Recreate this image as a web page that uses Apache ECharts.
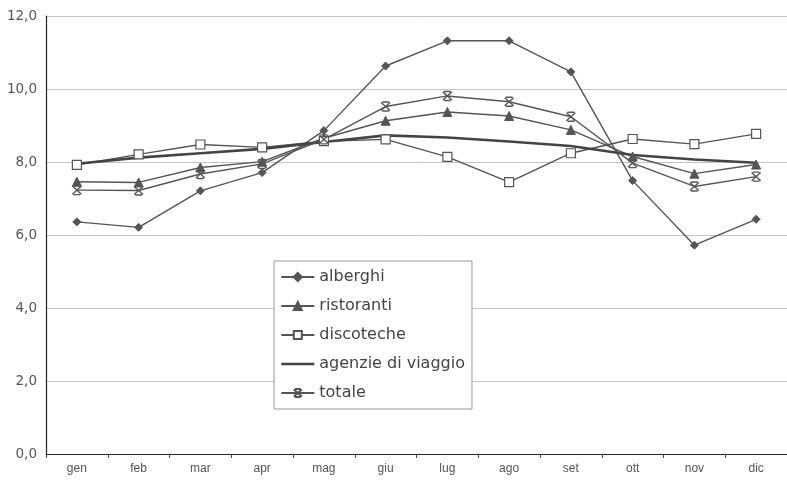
<!DOCTYPE html>
<html>
<head>
<meta charset="utf-8">
<script src="https://cdn.jsdelivr.net/npm/echarts@6/dist/echarts.min.js"></script>
<style>
  html, body { margin: 0; padding: 0; background: #fff; }
  #chart { width: 787px; height: 481px; }
</style>
</head>
<body>
<div id="chart"></div>
<script>
// Monthly index by sector
const months = ['gen', 'feb', 'mar', 'apr', 'mag', 'giu', 'lug', 'ago', 'set', 'ott', 'nov', 'dic'];
const yTicks = [0, 2, 4, 6, 8, 10, 12];

const alberghi   = [6.36, 6.21, 7.21, 7.71, 8.86, 10.63, 11.32, 11.32, 10.47, 7.49, 5.72, 6.43];
const ristoranti = [7.46, 7.44, 7.85, 8.01, 8.65, 9.13, 9.37, 9.26, 8.88, 8.15, 7.68, 7.93];
const discoteche = [7.92, 8.21, 8.48, 8.40, 8.57, 8.62, 8.14, 7.45, 8.24, 8.63, 8.49, 8.77];
const agenzie    = [7.95, 8.12, 8.24, 8.36, 8.55, 8.73, 8.67, 8.56, 8.44, 8.19, 8.07, 7.98];
const totale     = [7.23, 7.22, 7.67, 7.95, 8.62, 9.52, 9.81, 9.65, 9.24, 7.97, 7.33, 7.60];

const ink = '#555';
const labelFont = 'Liberation Sans, Arial, sans-serif';
const wideFont = 'DejaVu Sans, Verdana, sans-serif';
// X with short horizontal caps above and below
const starPath = 'path://M2,0 L8,0 M2,10 L8,10 M1,0.5 L9,9.5 M9,0.5 L1,9.5';

function lineSeries(name, data, extra) {
  return Object.assign({
    name: name,
    type: 'line',
    data: data,
    symbolSize: 8,
    lineStyle: { color: ink, width: 1.4 },
    itemStyle: { color: ink, borderColor: ink, borderWidth: 1 },
    emphasis: { disabled: true },
    animation: false,
    z: 3
  }, extra);
}

const chart = echarts.init(document.getElementById('chart'), null, { renderer: 'canvas' });
chart.setOption({
  backgroundColor: '#fff',
  animation: false,
  grid: { left: 46, right: 0, top: 16, bottom: 27 },
  xAxis: {
    type: 'category',
    data: months,
    boundaryGap: true,
    axisLine: { lineStyle: { color: '#222', width: 1.2 } },
    axisTick: { show: true, length: 4, lineStyle: { color: '#444' } },
    axisLabel: { color: '#555', fontSize: 12, fontFamily: labelFont, margin: 9 }
  },
  yAxis: {
    type: 'value',
    min: yTicks[0],
    max: yTicks[yTicks.length - 1],
    interval: 2,
    axisLine: { show: true, lineStyle: { color: '#222', width: 1.2 } },
    axisTick: { show: false },
    splitLine: { lineStyle: { color: '#c4c4c4', width: 1 } },
    axisLabel: {
      color: '#555', fontSize: 13.5, fontFamily: wideFont, margin: 9,
      formatter: v => v.toFixed(1).replace('.', ',')
    }
  },
  legend: {
    orient: 'vertical',
    left: 274,
    top: 261,
    padding: [8, 7, 8, 6],
    itemGap: 13,
    itemWidth: 33,
    itemHeight: 10,
    backgroundColor: '#fff',
    borderColor: '#999',
    borderWidth: 1,
    borderRadius: 0,
    textStyle: { color: '#444', fontSize: 16, fontFamily: wideFont, lineHeight: 16 },
    data: [
      'alberghi',
      'ristoranti',
      'discoteche',
      { name: 'agenzie di viaggio', itemStyle: { opacity: 0 }, lineStyle: { width: 2.6 } },
      'totale'
    ]
  },
  series: [
    lineSeries('alberghi', alberghi, { symbol: 'diamond', symbolSize: 8 }),
    lineSeries('ristoranti', ristoranti, { symbol: 'triangle', symbolSize: 9 }),
    lineSeries('discoteche', discoteche, {
      symbol: 'rect', symbolSize: 9,
      itemStyle: { color: '#fff', borderColor: ink, borderWidth: 1.2 }
    }),
    lineSeries('agenzie di viaggio', agenzie, {
      symbol: 'none',
      lineStyle: { color: '#444', width: 2.6 }
    }),
    lineSeries('totale', totale, {
      symbol: starPath, symbolSize: 9,
      itemStyle: { color: 'rgba(0,0,0,0)', borderColor: ink, borderWidth: 1.4 }
    })
  ]
});
</script>
</body>
</html>
